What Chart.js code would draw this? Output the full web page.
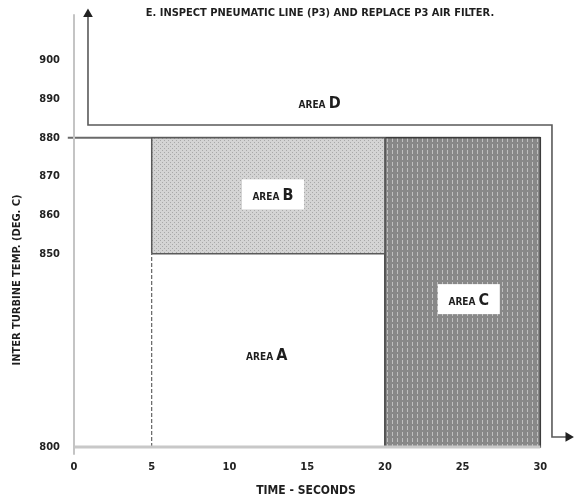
<!DOCTYPE html>
<html>
<head>
<meta charset="utf-8">
<script src="https://cdn.jsdelivr.net/npm/chart.js@4.4.1/dist/chart.umd.min.js"></script>
<style>
html,body{margin:0;padding:0;background:#fff;}
#wrap{width:577px;height:502px;position:relative;}
</style>
</head>
<body>
<div id="wrap"><canvas id="c" width="577" height="502"></canvas></div>
<script>
// ---- data ----
const xTicks = [0, 5, 10, 15, 20, 25, 30];
const yTicks = [800, 850, 860, 870, 880, 890, 900];
const areaAx = [5, 20];      const areaAy = [800, 850];
const areaBx = [5, 20];      const areaBy = [850, 880];
const areaCx = [20, 30];     const areaCy = [800, 880];
const limitLineX = [0, 30];  const limitLineY = 880;
const boundaryDx = [0.9, 0.9, 30.75, 30.75, 31.8];
const boundaryDy = [912, 883.3, 883.3, 802.6, 802.6];
const areaNames = ['A', 'B', 'C', 'D'];
const titleText = 'E. INSPECT PNEUMATIC LINE (P3) AND REPLACE P3 AIR FILTER.';
const xTitle = 'TIME - SECONDS';
const yTitle = 'INTER TURBINE TEMP. (DEG. C)';

const FONT = "'Liberation Sans Narrow','DejaVu Sans Condensed','Liberation Sans',sans-serif";

function rect(xs, ys) {
  return [
    {x: xs[0], y: ys[0]}, {x: xs[0], y: ys[1]},
    {x: xs[1], y: ys[1]}, {x: xs[1], y: ys[0]}, {x: xs[0], y: ys[0]}
  ];
}
function makePattern(w, h, bg, fg, pts) {
  const c = document.createElement('canvas');
  c.width = w; c.height = h;
  const g = c.getContext('2d');
  g.fillStyle = bg; g.fillRect(0, 0, w, h);
  g.fillStyle = fg;
  pts.forEach(p => g.fillRect(p[0], p[1], 1, 1));
  return g.createPattern(c, 'repeat');
}
const patB = makePattern(4, 4, '#d4d4d4', '#a8a8a8', [[0,0],[2,2]]);
const patC = makePattern(5, 6, '#888888', '#c0c0c0', [[2,0],[2,1],[2,2],[2,3]]);

const labelPos = {A: [12.4, 823.8], B: [12.8, 865.1], C: [25.4, 838], D: [15.8, 888.9]};
const labelBox = {B: true, C: true};

const overlay = {
  id: 'overlay',
  afterDatasetsDraw(chart) {
    const ctx = chart.ctx, xs = chart.scales.x, ys = chart.scales.y;
    ctx.save();
    ctx.fillStyle = '#1e1e1e';
    ctx.textBaseline = 'alphabetic';
    areaNames.forEach(n => {
      const px = xs.getPixelForValue(labelPos[n][0]);
      const py = ys.getPixelForValue(labelPos[n][1]);
      ctx.font = 'bold 10px ' + FONT;
      const w1 = ctx.measureText('AREA ').width;
      ctx.font = 'bold 16px ' + FONT;
      const w2 = ctx.measureText(n).width;
      const tw = w1 + w2;
      if (labelBox[n]) {
        ctx.fillStyle = '#ffffff';
        ctx.fillRect(px - 31, py - 16, 62, 30);
        ctx.fillStyle = '#1e1e1e';
      }
      ctx.textAlign = 'left';
      ctx.font = 'bold 10px ' + FONT;
      ctx.fillText('AREA ', px - tw / 2, py + 5);
      ctx.font = 'bold 16px ' + FONT;
      ctx.fillText(n, px - tw / 2 + w1, py + 5);
    });
    ctx.restore();
  },
  afterDraw(chart) {
    const ctx = chart.ctx;
    ctx.save();
    ctx.fillStyle = '#1e1e1e';
    ctx.textAlign = 'center';
    ctx.textBaseline = 'middle';
    ctx.font = 'bold 11px ' + FONT;
    ctx.fillText(titleText, 320, 13);
    ctx.font = 'bold 12px ' + FONT;
    ctx.fillText(xTitle, 306, 491);
    ctx.font = 'bold 11px ' + FONT;
    ctx.translate(17, 280);
    ctx.rotate(-Math.PI / 2);
    ctx.fillText(yTitle, 0, 0);
    ctx.restore();
  }
};

new Chart(document.getElementById('c'), {
  type: 'scatter',
  data: {
    datasets: [
      { // y axis line
        data: [{x: 0, y: 798}, {x: 0, y: 912}],
        showLine: true, borderColor: '#c4c4c4', borderWidth: 2, pointRadius: 0, fill: false
      },
      { // x axis baseline
        data: [{x: 0, y: 800}, {x: 30, y: 800}],
        showLine: true, borderColor: '#c8c8c8', borderWidth: 3, pointRadius: 0, fill: false
      },
      { // area B
        data: rect(areaBx, areaBy),
        showLine: true, borderColor: '#5a5a5a', borderWidth: 1.5, pointRadius: 0,
        backgroundColor: patB, fill: 'shape', tension: 0
      },
      { // area C
        data: rect(areaCx, areaCy),
        showLine: true, borderColor: '#3c3c3c', borderWidth: 1.5, pointRadius: 0,
        backgroundColor: patC, fill: 'shape', tension: 0
      },
      { // area A dashed left edge
        data: [{x: areaAx[0], y: areaAy[0]}, {x: areaAx[0], y: areaAy[1]}],
        showLine: true, borderColor: '#444', borderWidth: 1, borderDash: [4, 2], pointRadius: 0, fill: false
      },
      { // limit line at 880
        data: [{x: limitLineX[0] - 0.4, y: limitLineY}, {x: limitLineX[1], y: limitLineY}],
        showLine: true, borderColor: '#6a6a6a', borderWidth: 2, pointRadius: 0, fill: false
      },
      { // area D boundary
        data: boundaryDx.map((x, i) => ({x, y: boundaryDy[i]})),
        showLine: true, borderColor: '#5a5a5a', borderWidth: 1.6, fill: false,
        pointStyle: 'triangle',
        pointRadius: [4, 0, 0, 0, 4],
        pointRotation: [0, 0, 0, 0, 90],
        pointBackgroundColor: '#222', pointBorderColor: '#222'
      }
    ]
  },
  options: {
    responsive: false,
    animation: false,
    clip: false,
    layout: {padding: {top: 5, right: 2, left: 0, bottom: 0}},
    plugins: {legend: {display: false}, tooltip: {enabled: false}},
    scales: {
      x: {
        type: 'linear', min: 0, max: 32,
        afterBuildTicks: s => { s.ticks = xTicks.map(v => ({value: v})); },
        afterFit: s => { s.height = 55; },
        grid: {display: false}, border: {display: false},
        ticks: {padding: 6, color: '#222', font: {family: FONT, size: 11, weight: 'bold'}, maxRotation: 0, autoSkip: false}
      },
      y: {
        type: 'linear', min: 800, max: 912.4,
        afterBuildTicks: s => { s.ticks = yTicks.map(v => ({value: v})); },
        afterFit: s => { s.width = 74; },
        grid: {display: false}, border: {display: false},
        ticks: {padding: 6, color: '#222', font: {family: FONT, size: 11, weight: 'bold'}, autoSkip: false}
      }
    }
  },
  plugins: [overlay]
});
</script>
</body>
</html>
